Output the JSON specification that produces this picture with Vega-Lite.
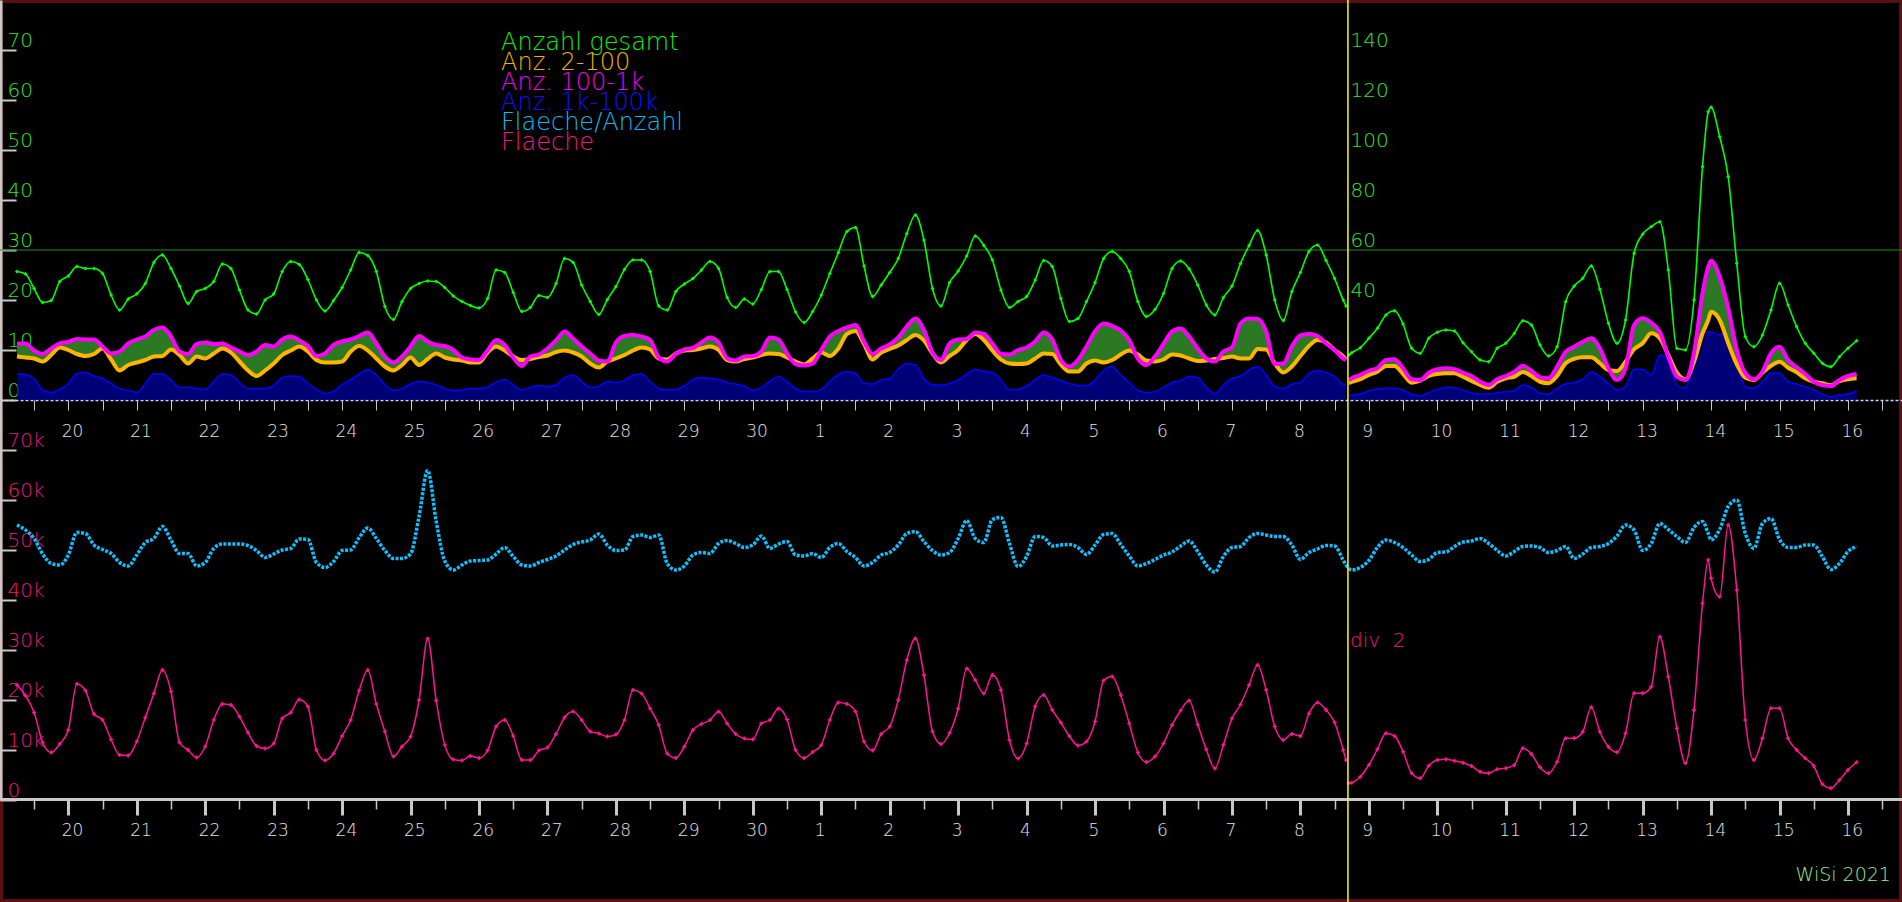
{
"$schema": "https://vega.github.io/schema/vega-lite/v6.json",
"width": 1902, "height": 902, "padding": 0,
"autosize": {"type": "none"},
"background": "#000000",
"config": {
  "view": {"stroke": "#5a1010", "strokeWidth": 6},
  "axis": {"labelFont": "DejaVu Sans", "labelFontWeight": 300},
  "text": {"font": "DejaVu Sans", "fontWeight": 300}
},
"datasets": {
  "dmain": [
{"t":"2021-09-19T06:00","g":25.7,"o":8.7,"m":11.3,"b":5.3,"c":55000,"p":23000},
{"t":"2021-09-19T09:00","g":25.2,"o":8.5,"m":11.3,"b":5.1,"c":54000,"p":20900},
{"t":"2021-09-19T12:00","g":22.3,"o":8.3,"m":9.9,"b":4.3,"c":52300,"p":17500},
{"t":"2021-09-19T15:00","g":19.5,"o":7.7,"m":9.2,"b":2.0,"c":49200,"p":11500},
{"t":"2021-09-19T18:00","g":19.9,"o":9.0,"m":10.3,"b":1.5,"c":47300,"p":9500},
{"t":"2021-09-19T21:00","g":23.7,"o":10.5,"m":11.3,"b":2.1,"c":47000,"p":11200},
{"t":"2021-09-20T00:00","g":24.8,"o":10.0,"m":11.6,"b":3.3,"c":49000,"p":14000},
{"t":"2021-09-20T03:00","g":26.7,"o":9.2,"m":12.2,"b":5.3,"c":53500,"p":23200},
{"t":"2021-09-20T06:00","g":26.3,"o":8.8,"m":12.1,"b":5.5,"c":53300,"p":21900},
{"t":"2021-09-20T09:00","g":26.3,"o":9.2,"m":12.1,"b":4.8,"c":51000,"p":17200},
{"t":"2021-09-20T12:00","g":25.3,"o":10.3,"m":10.7,"b":4.3,"c":50100,"p":16000},
{"t":"2021-09-20T15:00","g":21.0,"o":8.1,"m":9.3,"b":3.3,"c":49300,"p":12100},
{"t":"2021-09-20T18:00","g":18.0,"o":5.9,"m":9.7,"b":2.3,"c":47500,"p":9000},
{"t":"2021-09-20T21:00","g":20.2,"o":7.0,"m":11.3,"b":1.9,"c":46800,"p":8900},
{"t":"2021-09-21T00:00","g":21.2,"o":7.5,"m":12.1,"b":1.5,"c":49000,"p":11700},
{"t":"2021-09-21T03:00","g":23.3,"o":8.0,"m":12.7,"b":3.3,"c":51500,"p":16500},
{"t":"2021-09-21T06:00","g":27.5,"o":8.7,"m":14.0,"b":5.2,"c":52300,"p":21300},
{"t":"2021-09-21T09:00","g":29.0,"o":8.8,"m":14.5,"b":5.2,"c":54700,"p":26000},
{"t":"2021-09-21T12:00","g":26.3,"o":10.1,"m":12.7,"b":4.0,"c":52000,"p":21700},
{"t":"2021-09-21T15:00","g":22.8,"o":9.0,"m":9.7,"b":2.5,"c":49300,"p":11500},
{"t":"2021-09-21T18:00","g":19.3,"o":7.3,"m":9.2,"b":2.5,"c":49300,"p":10000},
{"t":"2021-09-21T21:00","g":21.7,"o":8.7,"m":11.2,"b":2.3,"c":46800,"p":8500},
{"t":"2021-09-22T00:00","g":22.3,"o":8.3,"m":11.5,"b":2.1,"c":47500,"p":10700},
{"t":"2021-09-22T03:00","g":23.7,"o":9.3,"m":11.2,"b":3.7,"c":50300,"p":16000},
{"t":"2021-09-22T06:00","g":27.2,"o":10.3,"m":11.3,"b":5.2,"c":51200,"p":19200},
{"t":"2021-09-22T09:00","g":26.3,"o":9.5,"m":10.5,"b":5.0,"c":51200,"p":19000},
{"t":"2021-09-22T12:00","g":22.0,"o":7.7,"m":9.7,"b":3.5,"c":51200,"p":16700},
{"t":"2021-09-22T15:00","g":18.0,"o":5.9,"m":9.0,"b":2.3,"c":50900,"p":13500},
{"t":"2021-09-22T18:00","g":17.2,"o":4.8,"m":9.7,"b":2.3,"c":49900,"p":10800},
{"t":"2021-09-22T21:00","g":20.0,"o":5.9,"m":11.0,"b":2.3,"c":48500,"p":10300},
{"t":"2021-09-23T00:00","g":21.2,"o":7.3,"m":10.7,"b":2.9,"c":49200,"p":11300},
{"t":"2021-09-23T03:00","g":25.7,"o":9.0,"m":12.1,"b":4.5,"c":50000,"p":16300},
{"t":"2021-09-23T06:00","g":27.7,"o":9.9,"m":12.7,"b":4.8,"c":50300,"p":17500},
{"t":"2021-09-23T09:00","g":27.1,"o":10.7,"m":11.9,"b":4.7,"c":52200,"p":20100},
{"t":"2021-09-23T12:00","g":24.1,"o":9.7,"m":10.8,"b":3.3,"c":52100,"p":18700},
{"t":"2021-09-23T15:00","g":20.0,"o":8.0,"m":8.8,"b":2.1,"c":47500,"p":10000},
{"t":"2021-09-23T18:00","g":17.8,"o":7.5,"m":9.3,"b":1.3,"c":46500,"p":7900},
{"t":"2021-09-23T21:00","g":19.9,"o":7.5,"m":11.0,"b":1.7,"c":47700,"p":9300},
{"t":"2021-09-24T00:00","g":22.5,"o":7.7,"m":11.7,"b":3.1,"c":49900,"p":12800},
{"t":"2021-09-24T03:00","g":26.0,"o":9.7,"m":12.1,"b":4.1,"c":50000,"p":16000},
{"t":"2021-09-24T06:00","g":29.5,"o":10.8,"m":12.8,"b":5.2,"c":52500,"p":21900},
{"t":"2021-09-24T09:00","g":28.9,"o":9.9,"m":13.5,"b":6.1,"c":54400,"p":26000},
{"t":"2021-09-24T12:00","g":25.7,"o":8.3,"m":11.3,"b":5.0,"c":52300,"p":19200},
{"t":"2021-09-24T15:00","g":18.7,"o":6.7,"m":8.7,"b":3.1,"c":49900,"p":13700},
{"t":"2021-09-24T18:00","g":16.1,"o":5.9,"m":7.5,"b":1.9,"c":48300,"p":8700},
{"t":"2021-09-24T21:00","g":19.7,"o":7.0,"m":8.7,"b":2.3,"c":48300,"p":10700},
{"t":"2021-09-25T00:00","g":22.3,"o":8.5,"m":10.7,"b":3.2,"c":49200,"p":12700},
{"t":"2021-09-25T03:00","g":23.3,"o":7.0,"m":12.8,"b":3.7,"c":56800,"p":20000},
{"t":"2021-09-25T06:00","g":23.8,"o":8.2,"m":11.7,"b":3.5,"c":65900,"p":32300},
{"t":"2021-09-25T09:00","g":23.7,"o":9.3,"m":11.0,"b":3.0,"c":55700,"p":19900},
{"t":"2021-09-25T12:00","g":22.5,"o":8.5,"m":10.8,"b":2.3,"c":47800,"p":11000},
{"t":"2021-09-25T15:00","g":20.8,"o":8.1,"m":10.0,"b":1.9,"c":46000,"p":8100},
{"t":"2021-09-25T18:00","g":19.7,"o":7.9,"m":8.5,"b":2.0,"c":47000,"p":7900},
{"t":"2021-09-25T21:00","g":18.9,"o":7.5,"m":8.1,"b":2.3,"c":47800,"p":8800},
{"t":"2021-09-26T00:00","g":18.4,"o":7.5,"m":8.0,"b":2.3,"c":47900,"p":8400},
{"t":"2021-09-26T03:00","g":20.3,"o":9.5,"m":9.9,"b":2.6,"c":48000,"p":9900},
{"t":"2021-09-26T06:00","g":26.0,"o":10.7,"m":12.0,"b":3.6,"c":49200,"p":14700},
{"t":"2021-09-26T09:00","g":25.5,"o":9.9,"m":11.0,"b":4.1,"c":50500,"p":16000},
{"t":"2021-09-26T12:00","g":21.5,"o":8.7,"m":8.5,"b":3.0,"c":48700,"p":12800},
{"t":"2021-09-26T15:00","g":17.7,"o":8.0,"m":6.8,"b":2.0,"c":47000,"p":8000},
{"t":"2021-09-26T18:00","g":18.5,"o":8.2,"m":8.7,"b":2.5,"c":46800,"p":8000},
{"t":"2021-09-26T21:00","g":20.9,"o":8.6,"m":9.1,"b":2.9,"c":47500,"p":9900},
{"t":"2021-09-27T00:00","g":20.5,"o":8.9,"m":10.3,"b":2.7,"c":48100,"p":10500},
{"t":"2021-09-27T03:00","g":23.3,"o":9.6,"m":11.9,"b":3.0,"c":48800,"p":13200},
{"t":"2021-09-27T06:00","g":28.3,"o":9.9,"m":13.7,"b":4.5,"c":50000,"p":16500},
{"t":"2021-09-27T09:00","g":27.5,"o":9.5,"m":12.3,"b":5.0,"c":51100,"p":17700},
{"t":"2021-09-27T12:00","g":23.0,"o":8.7,"m":10.7,"b":3.7,"c":51600,"p":16000},
{"t":"2021-09-27T15:00","g":19.7,"o":7.3,"m":9.3,"b":2.5,"c":52000,"p":13700},
{"t":"2021-09-27T18:00","g":17.1,"o":6.5,"m":7.9,"b":2.8,"c":53200,"p":13300},
{"t":"2021-09-27T21:00","g":20.1,"o":7.7,"m":7.7,"b":3.7,"c":51000,"p":12700},
{"t":"2021-09-28T00:00","g":22.7,"o":8.3,"m":11.5,"b":3.5,"c":49900,"p":13100},
{"t":"2021-09-28T03:00","g":26.1,"o":9.0,"m":12.8,"b":3.9,"c":50000,"p":16000},
{"t":"2021-09-28T06:00","g":28.0,"o":9.9,"m":13.0,"b":5.0,"c":52700,"p":22000},
{"t":"2021-09-28T09:00","g":28.0,"o":10.5,"m":12.7,"b":5.2,"c":53000,"p":21300},
{"t":"2021-09-28T12:00","g":25.7,"o":10.1,"m":12.0,"b":3.7,"c":52500,"p":18300},
{"t":"2021-09-28T15:00","g":18.8,"o":8.3,"m":8.5,"b":2.3,"c":53000,"p":15000},
{"t":"2021-09-28T18:00","g":18.0,"o":8.1,"m":7.7,"b":2.0,"c":47300,"p":9300},
{"t":"2021-09-28T21:00","g":21.7,"o":9.3,"m":9.2,"b":2.1,"c":46000,"p":8400},
{"t":"2021-09-29T00:00","g":23.2,"o":9.9,"m":10.1,"b":2.8,"c":46800,"p":10700},
{"t":"2021-09-29T03:00","g":24.3,"o":10.0,"m":10.4,"b":4.1,"c":49000,"p":14000},
{"t":"2021-09-29T06:00","g":26.0,"o":10.3,"m":11.5,"b":4.5,"c":49500,"p":15200},
{"t":"2021-09-29T09:00","g":27.7,"o":10.7,"m":12.5,"b":4.3,"c":49300,"p":16000},
{"t":"2021-09-29T12:00","g":26.3,"o":10.0,"m":11.5,"b":4.1,"c":51300,"p":17700},
{"t":"2021-09-29T15:00","g":20.5,"o":8.0,"m":8.3,"b":3.5,"c":51900,"p":15300},
{"t":"2021-09-29T18:00","g":18.5,"o":7.7,"m":7.9,"b":3.2,"c":51300,"p":13200},
{"t":"2021-09-29T21:00","g":20.2,"o":8.2,"m":8.7,"b":2.8,"c":50500,"p":12300},
{"t":"2021-09-30T00:00","g":19.2,"o":8.5,"m":8.8,"b":1.9,"c":51000,"p":12100},
{"t":"2021-09-30T03:00","g":22.1,"o":9.0,"m":9.7,"b":2.5,"c":52800,"p":15300},
{"t":"2021-09-30T06:00","g":25.7,"o":9.3,"m":12.5,"b":3.7,"c":50300,"p":16000},
{"t":"2021-09-30T09:00","g":25.7,"o":9.2,"m":12.1,"b":4.7,"c":51200,"p":18300},
{"t":"2021-09-30T12:00","g":22.1,"o":8.5,"m":9.3,"b":3.7,"c":51700,"p":16100},
{"t":"2021-09-30T15:00","g":17.6,"o":7.7,"m":7.2,"b":2.3,"c":49000,"p":10000},
{"t":"2021-09-30T18:00","g":15.5,"o":7.1,"m":6.9,"b":1.7,"c":48800,"p":8400},
{"t":"2021-09-30T21:00","g":17.7,"o":8.3,"m":7.3,"b":1.7,"c":49300,"p":9600},
{"t":"2021-10-01T00:00","g":21.0,"o":9.5,"m":10.0,"b":2.1,"c":48500,"p":11000},
{"t":"2021-10-01T03:00","g":25.3,"o":8.8,"m":12.7,"b":3.7,"c":50500,"p":16000},
{"t":"2021-10-01T06:00","g":29.5,"o":10.3,"m":13.8,"b":5.1,"c":51300,"p":19500},
{"t":"2021-10-01T09:00","g":33.7,"o":13.2,"m":14.5,"b":5.7,"c":49700,"p":19200},
{"t":"2021-10-01T12:00","g":34.5,"o":13.8,"m":15.0,"b":5.3,"c":48500,"p":17700},
{"t":"2021-10-01T15:00","g":26.8,"o":11.2,"m":11.7,"b":3.4,"c":46800,"p":11700},
{"t":"2021-10-01T18:00","g":20.7,"o":8.1,"m":9.2,"b":3.2,"c":47500,"p":9900},
{"t":"2021-10-01T21:00","g":23.0,"o":9.5,"m":10.3,"b":4.0,"c":49000,"p":13200},
{"t":"2021-10-02T00:00","g":25.5,"o":10.2,"m":11.1,"b":4.3,"c":49500,"p":14700},
{"t":"2021-10-02T03:00","g":28.3,"o":10.9,"m":12.5,"b":6.2,"c":51000,"p":20000},
{"t":"2021-10-02T06:00","g":33.3,"o":12.0,"m":14.7,"b":7.3,"c":53300,"p":28000},
{"t":"2021-10-02T09:00","g":37.0,"o":13.0,"m":16.3,"b":7.0,"c":53700,"p":32300},
{"t":"2021-10-02T12:00","g":32.0,"o":11.9,"m":14.0,"b":4.3,"c":51700,"p":25000},
{"t":"2021-10-02T15:00","g":22.3,"o":9.3,"m":9.5,"b":3.0,"c":49900,"p":13700},
{"t":"2021-10-02T18:00","g":18.8,"o":7.5,"m":8.0,"b":3.0,"c":49000,"p":11200},
{"t":"2021-10-02T21:00","g":23.5,"o":8.8,"m":11.3,"b":3.3,"c":49500,"p":13400},
{"t":"2021-10-03T00:00","g":25.8,"o":10.0,"m":12.1,"b":4.0,"c":52300,"p":18300},
{"t":"2021-10-03T03:00","g":28.8,"o":12.0,"m":12.2,"b":5.2,"c":55900,"p":26300},
{"t":"2021-10-03T06:00","g":32.8,"o":13.2,"m":13.5,"b":6.1,"c":52300,"p":24000},
{"t":"2021-10-03T09:00","g":30.9,"o":12.0,"m":13.2,"b":5.7,"c":51500,"p":21300},
{"t":"2021-10-03T12:00","g":28.0,"o":9.9,"m":11.3,"b":5.5,"c":56100,"p":25000},
{"t":"2021-10-03T15:00","g":22.0,"o":8.1,"m":9.2,"b":4.0,"c":56500,"p":22000},
{"t":"2021-10-03T18:00","g":18.5,"o":7.3,"m":9.1,"b":2.0,"c":51300,"p":12000},
{"t":"2021-10-03T21:00","g":19.7,"o":7.2,"m":10.0,"b":2.1,"c":46700,"p":8300},
{"t":"2021-10-04T00:00","g":20.7,"o":7.3,"m":10.5,"b":2.8,"c":48700,"p":11300},
{"t":"2021-10-04T03:00","g":24.0,"o":8.3,"m":11.7,"b":4.0,"c":52700,"p":18700},
{"t":"2021-10-04T06:00","g":27.9,"o":9.3,"m":13.5,"b":5.0,"c":52500,"p":21000},
{"t":"2021-10-04T09:00","g":26.7,"o":9.2,"m":12.1,"b":4.5,"c":50800,"p":18000},
{"t":"2021-10-04T12:00","g":20.3,"o":7.1,"m":8.0,"b":3.9,"c":51000,"p":15500},
{"t":"2021-10-04T15:00","g":15.7,"o":5.7,"m":6.7,"b":3.3,"c":51100,"p":12800},
{"t":"2021-10-04T18:00","g":16.3,"o":5.7,"m":8.0,"b":2.9,"c":50500,"p":10900},
{"t":"2021-10-04T21:00","g":19.7,"o":7.3,"m":10.7,"b":2.9,"c":49100,"p":11700},
{"t":"2021-10-05T00:00","g":23.5,"o":7.9,"m":13.7,"b":4.0,"c":51000,"p":15700},
{"t":"2021-10-05T03:00","g":28.3,"o":7.5,"m":15.3,"b":5.9,"c":53100,"p":23900},
{"t":"2021-10-05T06:00","g":29.7,"o":8.0,"m":14.8,"b":6.7,"c":53300,"p":24700},
{"t":"2021-10-05T09:00","g":28.3,"o":9.1,"m":13.9,"b":5.0,"c":51100,"p":21000},
{"t":"2021-10-05T12:00","g":25.7,"o":9.9,"m":12.0,"b":3.5,"c":48800,"p":15300},
{"t":"2021-10-05T15:00","g":19.7,"o":9.1,"m":8.3,"b":1.9,"c":46800,"p":9500},
{"t":"2021-10-05T18:00","g":16.7,"o":7.9,"m":7.0,"b":1.5,"c":47300,"p":7600},
{"t":"2021-10-05T21:00","g":18.1,"o":7.7,"m":8.7,"b":1.7,"c":48100,"p":8700},
{"t":"2021-10-06T00:00","g":21.3,"o":8.1,"m":11.2,"b":2.5,"c":49000,"p":11300},
{"t":"2021-10-06T03:00","g":26.3,"o":9.1,"m":13.7,"b":3.5,"c":49600,"p":15000},
{"t":"2021-10-06T06:00","g":27.8,"o":8.9,"m":14.3,"b":3.9,"c":50800,"p":17900},
{"t":"2021-10-06T09:00","g":26.2,"o":8.3,"m":12.7,"b":4.7,"c":51800,"p":19900},
{"t":"2021-10-06T12:00","g":23.0,"o":7.8,"m":10.3,"b":4.5,"c":49700,"p":15100},
{"t":"2021-10-06T15:00","g":19.0,"o":7.9,"m":8.3,"b":2.5,"c":47000,"p":10100},
{"t":"2021-10-06T18:00","g":17.0,"o":8.2,"m":7.7,"b":1.3,"c":45600,"p":6300},
{"t":"2021-10-06T21:00","g":20.5,"o":8.4,"m":9.7,"b":3.0,"c":48700,"p":11000},
{"t":"2021-10-07T00:00","g":22.8,"o":8.7,"m":10.5,"b":4.3,"c":50500,"p":16300},
{"t":"2021-10-07T03:00","g":27.3,"o":8.3,"m":15.3,"b":4.8,"c":50700,"p":19100},
{"t":"2021-10-07T06:00","g":30.9,"o":8.3,"m":16.3,"b":6.0,"c":52500,"p":23000},
{"t":"2021-10-07T09:00","g":33.9,"o":10.2,"m":16.2,"b":6.7,"c":53300,"p":27000},
{"t":"2021-10-07T12:00","g":29.0,"o":10.1,"m":13.7,"b":5.0,"c":53000,"p":22000},
{"t":"2021-10-07T15:00","g":20.0,"o":7.3,"m":7.2,"b":2.7,"c":52700,"p":14700},
{"t":"2021-10-07T18:00","g":15.9,"o":5.5,"m":7.3,"b":2.3,"c":52700,"p":12000},
{"t":"2021-10-07T21:00","g":21.7,"o":6.7,"m":10.7,"b":3.2,"c":51000,"p":13200},
{"t":"2021-10-08T00:00","g":25.5,"o":8.8,"m":12.9,"b":3.5,"c":48100,"p":12800},
{"t":"2021-10-08T03:00","g":29.7,"o":10.8,"m":13.2,"b":5.3,"c":49500,"p":17300},
{"t":"2021-10-08T06:00","g":31.0,"o":12.0,"m":12.8,"b":5.9,"c":50200,"p":19500},
{"t":"2021-10-08T09:00","g":27.9,"o":11.5,"m":11.3,"b":5.5,"c":50900,"p":18000},
{"t":"2021-10-08T12:00","g":24.3,"o":10.0,"m":10.0,"b":4.7,"c":50800,"p":15500},
{"t":"2021-10-08T15:00","g":20.0,"o":8.7,"m":8.3,"b":3.1,"c":48000,"p":10000},
{"t":"2021-10-08T16:00","g":18.8,"o":8.1,"m":8.0,"b":2.9,"c":47000,"p":8000},
{"t":"2021-10-08T17:00","g":18.0,"o":6.7,"m":8.0,"b":2.0,"c":46300,"p":6700},
{"t":"2021-10-08T18:00","g":18.9,"o":7.2,"m":8.7,"b":2.0,"c":46000,"p":6900},
{"t":"2021-10-08T21:00","g":20.9,"o":8.3,"m":10.0,"b":2.4,"c":46500,"p":9300},
{"t":"2021-10-09T00:00","g":24.7,"o":10.0,"m":11.7,"b":3.7,"c":47900,"p":14000},
{"t":"2021-10-09T03:00","g":28.7,"o":11.3,"m":12.7,"b":4.4,"c":50500,"p":20300},
{"t":"2021-10-09T06:00","g":34.0,"o":13.6,"m":16.0,"b":4.7,"c":52000,"p":26700},
{"t":"2021-10-09T09:00","g":35.7,"o":13.6,"m":16.3,"b":4.7,"c":51500,"p":25600},
{"t":"2021-10-09T12:00","g":30.4,"o":10.4,"m":12.7,"b":4.0,"c":50500,"p":19300},
{"t":"2021-10-09T15:00","g":20.7,"o":6.9,"m":8.3,"b":2.3,"c":49000,"p":10700},
{"t":"2021-10-09T18:00","g":18.7,"o":7.7,"m":8.0,"b":1.6,"c":47700,"p":8700},
{"t":"2021-10-09T21:00","g":24.7,"o":9.6,"m":10.9,"b":2.9,"c":48100,"p":13700},
{"t":"2021-10-10T00:00","g":27.1,"o":10.4,"m":12.3,"b":4.3,"c":49500,"p":16000},
{"t":"2021-10-10T03:00","g":28.0,"o":10.7,"m":12.7,"b":5.1,"c":49600,"p":16300},
{"t":"2021-10-10T06:00","g":27.6,"o":10.7,"m":12.3,"b":4.9,"c":50700,"p":15700},
{"t":"2021-10-10T09:00","g":22.9,"o":9.3,"m":10.9,"b":4.0,"c":51600,"p":14900},
{"t":"2021-10-10T12:00","g":19.3,"o":7.6,"m":9.6,"b":2.9,"c":51800,"p":13600},
{"t":"2021-10-10T15:00","g":16.0,"o":6.0,"m":7.3,"b":2.4,"c":52300,"p":11300},
{"t":"2021-10-10T18:00","g":15.3,"o":4.9,"m":6.0,"b":2.5,"c":51300,"p":10700},
{"t":"2021-10-10T21:00","g":20.7,"o":7.3,"m":8.3,"b":2.9,"c":49900,"p":12300},
{"t":"2021-10-11T00:00","g":22.7,"o":8.7,"m":9.6,"b":3.3,"c":48800,"p":12700},
{"t":"2021-10-11T03:00","g":26.7,"o":9.3,"m":11.3,"b":3.7,"c":49700,"p":14000},
{"t":"2021-10-11T06:00","g":31.7,"o":11.2,"m":13.7,"b":6.0,"c":50700,"p":20700},
{"t":"2021-10-11T09:00","g":30.0,"o":9.6,"m":11.7,"b":5.1,"c":50800,"p":18400},
{"t":"2021-10-11T12:00","g":22.0,"o":7.3,"m":9.1,"b":2.7,"c":50500,"p":13100},
{"t":"2021-10-11T15:00","g":17.6,"o":6.7,"m":8.7,"b":2.3,"c":49500,"p":10700},
{"t":"2021-10-11T18:00","g":21.3,"o":9.6,"m":13.3,"b":4.7,"c":49900,"p":15300},
{"t":"2021-10-11T21:00","g":39.3,"o":14.7,"m":19.3,"b":6.4,"c":50700,"p":24700},
{"t":"2021-10-12T00:00","g":45.6,"o":16.5,"m":21.3,"b":6.9,"c":48300,"p":24700},
{"t":"2021-10-12T03:00","g":48.7,"o":17.1,"m":23.3,"b":8.3,"c":49200,"p":27300},
{"t":"2021-10-12T06:00","g":53.6,"o":17.1,"m":24.7,"b":11.2,"c":50500,"p":37100},
{"t":"2021-10-12T09:00","g":44.3,"o":14.7,"m":20.7,"b":9.3,"c":50700,"p":27300},
{"t":"2021-10-12T12:00","g":30.7,"o":12.0,"m":12.7,"b":6.7,"c":51300,"p":21300},
{"t":"2021-10-12T15:00","g":22.7,"o":11.6,"m":8.0,"b":4.0,"c":52800,"p":19100},
{"t":"2021-10-12T18:00","g":32.0,"o":15.3,"m":12.7,"b":5.6,"c":55000,"p":26700},
{"t":"2021-10-12T21:00","g":58.7,"o":20.3,"m":30.0,"b":12.3,"c":54000,"p":42700},
{"t":"2021-10-13T00:00","g":66.3,"o":22.7,"m":32.7,"b":12.3,"c":49900,"p":42700},
{"t":"2021-10-13T03:00","g":69.3,"o":26.7,"m":30.9,"b":10.0,"c":51300,"p":45300},
{"t":"2021-10-13T06:00","g":71.3,"o":24.7,"m":27.3,"b":18.0,"c":55300,"p":65300},
{"t":"2021-10-13T09:00","g":52.0,"o":18.0,"m":17.3,"b":16.0,"c":54100,"p":49300},
{"t":"2021-10-13T12:00","g":20.7,"o":10.9,"m":9.3,"b":6.0,"c":52700,"p":28700},
{"t":"2021-10-13T15:00","g":20.0,"o":8.3,"m":8.0,"b":4.7,"c":51500,"p":14700},
{"t":"2021-10-13T18:00","g":40.0,"o":15.3,"m":18.7,"b":17.6,"c":54500,"p":36000},
{"t":"2021-10-13T21:00","g":93.3,"o":26.7,"m":42.7,"b":26.4,"c":55700,"p":78700},
{"t":"2021-10-13T23:00","g":115.3,"o":32.0,"m":53.3,"b":27.3,"c":53300,"p":96000},
{"t":"2021-10-14T00:00","g":117.1,"o":35.3,"m":55.7,"b":27.1,"c":52000,"p":88700},
{"t":"2021-10-14T03:00","g":105.3,"o":32.0,"m":49.3,"b":26.0,"c":54100,"p":81300},
{"t":"2021-10-14T06:00","g":89.3,"o":22.7,"m":36.7,"b":28.0,"c":58700,"p":110000},
{"t":"2021-10-14T09:00","g":54.7,"o":14.3,"m":20.0,"b":16.0,"c":60000,"p":84000},
{"t":"2021-10-14T12:00","g":25.3,"o":8.9,"m":10.7,"b":5.3,"c":53300,"p":32000},
{"t":"2021-10-14T15:00","g":21.3,"o":8.0,"m":8.3,"b":4.7,"c":50300,"p":16000},
{"t":"2021-10-14T18:00","g":26.0,"o":10.9,"m":11.3,"b":7.3,"c":55300,"p":24700},
{"t":"2021-10-14T21:00","g":36.0,"o":13.7,"m":18.7,"b":10.9,"c":56300,"p":36700},
{"t":"2021-10-15T00:00","g":46.7,"o":15.3,"m":21.3,"b":10.7,"c":52100,"p":36700},
{"t":"2021-10-15T03:00","g":38.0,"o":12.9,"m":16.0,"b":7.3,"c":50500,"p":24700},
{"t":"2021-10-15T06:00","g":29.3,"o":11.1,"m":13.1,"b":6.3,"c":50500,"p":20000},
{"t":"2021-10-15T09:00","g":22.7,"o":8.7,"m":10.4,"b":5.3,"c":51000,"p":16700},
{"t":"2021-10-15T12:00","g":18.7,"o":7.3,"m":7.3,"b":4.0,"c":51000,"p":13600},
{"t":"2021-10-15T15:00","g":14.7,"o":6.7,"m":6.0,"b":2.4,"c":48700,"p":6400},
{"t":"2021-10-15T18:00","g":13.3,"o":5.9,"m":5.6,"b":1.3,"c":46100,"p":4700},
{"t":"2021-10-15T21:00","g":17.3,"o":7.6,"m":8.0,"b":2.0,"c":47300,"p":8000},
{"t":"2021-10-16T00:00","g":20.7,"o":8.3,"m":9.6,"b":2.4,"c":49700,"p":12000},
{"t":"2021-10-16T03:00","g":23.7,"o":8.7,"m":10.4,"b":3.7,"c":50700,"p":15100}
  ],
  "dlegend": [
    {"name": "Anzahl gesamt"}, {"name": "Anz. 2-100"}, {"name": "Anz. 100-1k"},
    {"name": "Anz. 1k-100k"}, {"name": "Flaeche/Anzahl"}, {"name": "Flaeche"}
  ]
},
"data": {"name": "dmain", "format": {"parse": {"t": "date"}}},
"resolve": {"scale": {"y": "independent"}, "axis": {"x": "independent", "y": "independent"}},
"layer": [
  {"data": {"values": [{"v": 30}]},
   "mark": {"type": "rule", "color": "#1f8f1f", "strokeWidth": 1},
   "encoding": {"y": {"field": "v", "type": "quantitative", "scale": {"domain": [0, 80], "range": [400, 0], "nice": false}, "axis": null}}},

  {"transform": [{"filter": "time(datum.t) < time(datetime(2021,9,8,16,30))"}],
   "mark": {"type": "area", "interpolate": "monotone", "fill": "#0000a8", "line": {"color": "#0000ff", "strokeWidth": 1.5}},
   "encoding": {
     "x": {"field": "t", "type": "temporal", "scale": {"domain": [{"year": 2021, "month": 9, "date": 19, "minutes": 3}, {"year": 2021, "month": 10, "date": 16, "hours": 18, "minutes": 56}], "nice": false}, "axis": null},
     "y": {"field": "b", "type": "quantitative", "scale": {"domain": [0, 80], "range": [400, 0], "nice": false}, "axis": null}}},
  {"transform": [{"filter": "time(datum.t) < time(datetime(2021,9,8,16,30))"}],
   "mark": {"type": "area", "interpolate": "monotone", "fill": "#2b7a23"},
   "encoding": {
     "x": {"field": "t", "type": "temporal", "scale": {"domain": [{"year": 2021, "month": 9, "date": 19, "minutes": 3}, {"year": 2021, "month": 10, "date": 16, "hours": 18, "minutes": 56}], "nice": false}, "axis": null},
     "y": {"field": "m", "type": "quantitative", "scale": {"domain": [0, 80], "range": [400, 0], "nice": false}, "axis": null},
     "y2": {"field": "o"}}},
  {"transform": [{"filter": "time(datum.t) < time(datetime(2021,9,8,16,30))"}],
   "mark": {"type": "line", "interpolate": "monotone", "color": "#ffb400", "strokeWidth": 4},
   "encoding": {
     "x": {"field": "t", "type": "temporal", "scale": {"domain": [{"year": 2021, "month": 9, "date": 19, "minutes": 3}, {"year": 2021, "month": 10, "date": 16, "hours": 18, "minutes": 56}], "nice": false}, "axis": null},
     "y": {"field": "o", "type": "quantitative", "scale": {"domain": [0, 80], "range": [400, 0], "nice": false}, "axis": null}}},
  {"transform": [{"filter": "time(datum.t) < time(datetime(2021,9,8,16,30))"}],
   "mark": {"type": "line", "interpolate": "monotone", "color": "#ff00ff", "strokeWidth": 4},
   "encoding": {
     "x": {"field": "t", "type": "temporal", "scale": {"domain": [{"year": 2021, "month": 9, "date": 19, "minutes": 3}, {"year": 2021, "month": 10, "date": 16, "hours": 18, "minutes": 56}], "nice": false}, "axis": null},
     "y": {"field": "m", "type": "quantitative", "scale": {"domain": [0, 80], "range": [400, 0], "nice": false}, "axis": null}}},
  {"transform": [{"filter": "time(datum.t) < time(datetime(2021,9,8,16,30))"}],
   "mark": {"type": "line", "interpolate": "monotone", "color": "#00ff00", "strokeWidth": 1.6, "point": {"shape": "diamond", "size": 16, "filled": true, "color": "#00ff00"}},
   "encoding": {
     "x": {"field": "t", "type": "temporal", "scale": {"domain": [{"year": 2021, "month": 9, "date": 19, "minutes": 3}, {"year": 2021, "month": 10, "date": 16, "hours": 18, "minutes": 56}], "nice": false},
       "axis": {"orient": "bottom", "offset": -502,
         "values": [{"year":2021,"month":9,"date":19,"hours":12},{"year":2021,"month":9,"date":20},{"year":2021,"month":9,"date":20,"hours":12},{"year":2021,"month":9,"date":21},{"year":2021,"month":9,"date":21,"hours":12},{"year":2021,"month":9,"date":22},{"year":2021,"month":9,"date":22,"hours":12},{"year":2021,"month":9,"date":23},{"year":2021,"month":9,"date":23,"hours":12},{"year":2021,"month":9,"date":24},{"year":2021,"month":9,"date":24,"hours":12},{"year":2021,"month":9,"date":25},{"year":2021,"month":9,"date":25,"hours":12},{"year":2021,"month":9,"date":26},{"year":2021,"month":9,"date":26,"hours":12},{"year":2021,"month":9,"date":27},{"year":2021,"month":9,"date":27,"hours":12},{"year":2021,"month":9,"date":28},{"year":2021,"month":9,"date":28,"hours":12},{"year":2021,"month":9,"date":29},{"year":2021,"month":9,"date":29,"hours":12},{"year":2021,"month":9,"date":30},{"year":2021,"month":9,"date":30,"hours":12},{"year":2021,"month":10,"date":1},{"year":2021,"month":10,"date":1,"hours":12},{"year":2021,"month":10,"date":2},{"year":2021,"month":10,"date":2,"hours":12},{"year":2021,"month":10,"date":3},{"year":2021,"month":10,"date":3,"hours":12},{"year":2021,"month":10,"date":4},{"year":2021,"month":10,"date":4,"hours":12},{"year":2021,"month":10,"date":5},{"year":2021,"month":10,"date":5,"hours":12},{"year":2021,"month":10,"date":6},{"year":2021,"month":10,"date":6,"hours":12},{"year":2021,"month":10,"date":7},{"year":2021,"month":10,"date":7,"hours":12},{"year":2021,"month":10,"date":8},{"year":2021,"month":10,"date":8,"hours":12},{"year":2021,"month":10,"date":9},{"year":2021,"month":10,"date":9,"hours":12},{"year":2021,"month":10,"date":10},{"year":2021,"month":10,"date":10,"hours":12},{"year":2021,"month":10,"date":11},{"year":2021,"month":10,"date":11,"hours":12},{"year":2021,"month":10,"date":12},{"year":2021,"month":10,"date":12,"hours":12},{"year":2021,"month":10,"date":13},{"year":2021,"month":10,"date":13,"hours":12},{"year":2021,"month":10,"date":14},{"year":2021,"month":10,"date":14,"hours":12},{"year":2021,"month":10,"date":15},{"year":2021,"month":10,"date":15,"hours":12},{"year":2021,"month":10,"date":16},{"year":2021,"month":10,"date":16,"hours":12}],
         "domain": true, "domainColor": "#d0d0ff", "domainWidth": 1.5, "domainDash": [3, 2], "ticks": true, "tickColor": "#c8c8c8", "tickSize": 10, "tickWidth": 1, "grid": false,
         "labelExpr": "hours(datum.value) == 0 ? timeFormat(datum.value, '%-d') : ''", "labelColor": "#e4e4e4", "labelFontSize": 17, "labelAlign": "left", "labelBaseline": "alphabetic", "labelOffset": -7, "labelPadding": 26, "labelOverlap": false, "labelFlush": false, "labelBound": false, "title": null}},
     "y": {"field": "g", "type": "quantitative", "scale": {"domain": [0, 80], "range": [400, 0], "nice": false},
       "axis": {"orient": "left", "values": [0, 10, 20, 30, 40, 50, 60, 70], "domain": true, "domainColor": "#c8c8c8", "domainWidth": 4, "ticks": false, "grid": true, "gridColor": "#c8c8c8", "gridWidth": 2, "gridDash": [16, 4000], "labelExpr": "datum.value == 0 ? '\u00a0\u00a00' : datum.label", "labelColor": "#30e830", "labelFontSize": 20, "labelAlign": "left", "labelBaseline": "alphabetic", "labelPadding": -7, "labelOffset": -4, "labelOverlap": false, "labelFlush": false, "labelBound": false, "title": null}}}},

  {"transform": [{"filter": "time(datum.t) > time(datetime(2021,9,8,16,30))"}],
   "mark": {"type": "area", "interpolate": "monotone", "fill": "#0000a8", "line": {"color": "#0000ff", "strokeWidth": 1.5}},
   "encoding": {
     "x": {"field": "t", "type": "temporal", "scale": {"domain": [{"year": 2021, "month": 9, "date": 19, "minutes": 3}, {"year": 2021, "month": 10, "date": 16, "hours": 18, "minutes": 56}], "nice": false}, "axis": null},
     "y": {"field": "b", "type": "quantitative", "scale": {"domain": [0, 160], "range": [400, 0], "nice": false}, "axis": null}}},
  {"transform": [{"filter": "time(datum.t) > time(datetime(2021,9,8,16,30))"}],
   "mark": {"type": "area", "interpolate": "monotone", "fill": "#2b7a23"},
   "encoding": {
     "x": {"field": "t", "type": "temporal", "scale": {"domain": [{"year": 2021, "month": 9, "date": 19, "minutes": 3}, {"year": 2021, "month": 10, "date": 16, "hours": 18, "minutes": 56}], "nice": false}, "axis": null},
     "y": {"field": "m", "type": "quantitative", "scale": {"domain": [0, 160], "range": [400, 0], "nice": false}, "axis": null},
     "y2": {"field": "o"}}},
  {"transform": [{"filter": "time(datum.t) > time(datetime(2021,9,8,16,30))"}],
   "mark": {"type": "line", "interpolate": "monotone", "color": "#ffb400", "strokeWidth": 4},
   "encoding": {
     "x": {"field": "t", "type": "temporal", "scale": {"domain": [{"year": 2021, "month": 9, "date": 19, "minutes": 3}, {"year": 2021, "month": 10, "date": 16, "hours": 18, "minutes": 56}], "nice": false}, "axis": null},
     "y": {"field": "o", "type": "quantitative", "scale": {"domain": [0, 160], "range": [400, 0], "nice": false}, "axis": null}}},
  {"transform": [{"filter": "time(datum.t) > time(datetime(2021,9,8,16,30))"}],
   "mark": {"type": "line", "interpolate": "monotone", "color": "#ff00ff", "strokeWidth": 4},
   "encoding": {
     "x": {"field": "t", "type": "temporal", "scale": {"domain": [{"year": 2021, "month": 9, "date": 19, "minutes": 3}, {"year": 2021, "month": 10, "date": 16, "hours": 18, "minutes": 56}], "nice": false}, "axis": null},
     "y": {"field": "m", "type": "quantitative", "scale": {"domain": [0, 160], "range": [400, 0], "nice": false}, "axis": null}}},
  {"transform": [{"filter": "time(datum.t) > time(datetime(2021,9,8,16,30))"}],
   "mark": {"type": "line", "interpolate": "monotone", "color": "#00ff00", "strokeWidth": 1.6, "point": {"shape": "diamond", "size": 16, "filled": true, "color": "#00ff00"}},
   "encoding": {
     "x": {"field": "t", "type": "temporal", "scale": {"domain": [{"year": 2021, "month": 9, "date": 19, "minutes": 3}, {"year": 2021, "month": 10, "date": 16, "hours": 18, "minutes": 56}], "nice": false}, "axis": null},
     "y": {"field": "g", "type": "quantitative", "scale": {"domain": [0, 160], "range": [400, 0], "nice": false},
       "axis": {"orient": "right", "offset": -554, "values": [40, 60, 80, 100, 120, 140], "domain": false, "ticks": false, "grid": false, "labelColor": "#30e830", "labelFontSize": 20, "labelAlign": "left", "labelBaseline": "alphabetic", "labelPadding": 2, "labelOffset": -4, "labelOverlap": false, "labelFlush": false, "labelBound": false, "title": null}}}},

  {"mark": {"type": "line", "interpolate": "monotone", "color": "#10bfff", "strokeWidth": 3.5, "strokeDash": [3, 1.5]},
   "encoding": {
     "x": {"field": "t", "type": "temporal", "scale": {"domain": [{"year": 2021, "month": 9, "date": 19, "minutes": 3}, {"year": 2021, "month": 10, "date": 16, "hours": 18, "minutes": 56}], "nice": false},
       "axis": {"orient": "bottom", "offset": -103,
         "values": [{"year":2021,"month":9,"date":19,"hours":12},{"year":2021,"month":9,"date":20,"hours":12},{"year":2021,"month":9,"date":21,"hours":12},{"year":2021,"month":9,"date":22,"hours":12},{"year":2021,"month":9,"date":23,"hours":12},{"year":2021,"month":9,"date":24,"hours":12},{"year":2021,"month":9,"date":25,"hours":12},{"year":2021,"month":9,"date":26,"hours":12},{"year":2021,"month":9,"date":27,"hours":12},{"year":2021,"month":9,"date":28,"hours":12},{"year":2021,"month":9,"date":29,"hours":12},{"year":2021,"month":9,"date":30,"hours":12},{"year":2021,"month":10,"date":1,"hours":12},{"year":2021,"month":10,"date":2,"hours":12},{"year":2021,"month":10,"date":3,"hours":12},{"year":2021,"month":10,"date":4,"hours":12},{"year":2021,"month":10,"date":5,"hours":12},{"year":2021,"month":10,"date":6,"hours":12},{"year":2021,"month":10,"date":7,"hours":12},{"year":2021,"month":10,"date":8,"hours":12},{"year":2021,"month":10,"date":9,"hours":12},{"year":2021,"month":10,"date":10,"hours":12},{"year":2021,"month":10,"date":11,"hours":12},{"year":2021,"month":10,"date":12,"hours":12},{"year":2021,"month":10,"date":13,"hours":12},{"year":2021,"month":10,"date":14,"hours":12},{"year":2021,"month":10,"date":15,"hours":12},{"year":2021,"month":10,"date":16,"hours":12}],
         "domain": true, "domainColor": "#c8c8c8", "domainWidth": 3, "ticks": true, "tickColor": "#c8c8c8", "tickSize": 10, "tickWidth": 1.5, "labels": false, "grid": false, "title": null}},
     "y": {"field": "c", "type": "quantitative", "scale": {"domain": [0, 80000], "range": [800, 400], "nice": false}, "axis": null}}},
  {"transform": [{"filter": "time(datum.t) < time(datetime(2021,9,8,16,30))"}],
   "mark": {"type": "line", "interpolate": "monotone", "color": "#ff1493", "strokeWidth": 1.5, "point": {"shape": "cross", "size": 16, "filled": true, "color": "#ff1493"}},
   "encoding": {
     "x": {"field": "t", "type": "temporal", "scale": {"domain": [{"year": 2021, "month": 9, "date": 19, "minutes": 3}, {"year": 2021, "month": 10, "date": 16, "hours": 18, "minutes": 56}], "nice": false},
       "axis": {"orient": "bottom", "offset": -103,
         "values": [{"year":2021,"month":9,"date":20},{"year":2021,"month":9,"date":21},{"year":2021,"month":9,"date":22},{"year":2021,"month":9,"date":23},{"year":2021,"month":9,"date":24},{"year":2021,"month":9,"date":25},{"year":2021,"month":9,"date":26},{"year":2021,"month":9,"date":27},{"year":2021,"month":9,"date":28},{"year":2021,"month":9,"date":29},{"year":2021,"month":9,"date":30},{"year":2021,"month":10,"date":1},{"year":2021,"month":10,"date":2},{"year":2021,"month":10,"date":3},{"year":2021,"month":10,"date":4},{"year":2021,"month":10,"date":5},{"year":2021,"month":10,"date":6},{"year":2021,"month":10,"date":7},{"year":2021,"month":10,"date":8},{"year":2021,"month":10,"date":9},{"year":2021,"month":10,"date":10},{"year":2021,"month":10,"date":11},{"year":2021,"month":10,"date":12},{"year":2021,"month":10,"date":13},{"year":2021,"month":10,"date":14},{"year":2021,"month":10,"date":15},{"year":2021,"month":10,"date":16}],
         "domain": false, "ticks": true, "tickColor": "#c8c8c8", "tickSize": 16, "tickWidth": 3, "grid": false, "labelExpr": "timeFormat(datum.value, '%-d')", "labelColor": "#e4e4e4", "labelFontSize": 17, "labelAlign": "left", "labelBaseline": "alphabetic", "labelOffset": -7, "labelPadding": 20, "labelOverlap": false, "labelFlush": false, "labelBound": false, "title": null}},
     "y": {"field": "p", "type": "quantitative", "scale": {"domain": [0, 80000], "range": [800, 400], "nice": false},
       "axis": {"orient": "left", "values": [0, 10000, 20000, 30000, 40000, 50000, 60000, 70000], "domain": true, "domainColor": "#c8c8c8", "domainWidth": 4, "ticks": false, "grid": true, "gridColor": "#c8c8c8", "gridWidth": 2, "gridDash": [16, 4000], "labelExpr": "datum.value == 0 ? '\u00a0\u00a00' : (datum.value / 1000) + 'k'", "labelColor": "#f01880", "labelFontSize": 20, "labelAlign": "left", "labelBaseline": "alphabetic", "labelPadding": -7, "labelOffset": -4, "labelOverlap": false, "labelFlush": false, "labelBound": false, "title": null}}}},
  {"transform": [{"filter": "time(datum.t) > time(datetime(2021,9,8,16,30))"}],
   "mark": {"type": "line", "interpolate": "monotone", "color": "#ff1493", "strokeWidth": 1.5, "point": {"shape": "cross", "size": 16, "filled": true, "color": "#ff1493"}},
   "encoding": {
     "x": {"field": "t", "type": "temporal", "scale": {"domain": [{"year": 2021, "month": 9, "date": 19, "minutes": 3}, {"year": 2021, "month": 10, "date": 16, "hours": 18, "minutes": 56}], "nice": false}, "axis": null},
     "y": {"field": "p", "type": "quantitative", "scale": {"domain": [0, 160000], "range": [800, 400], "nice": false}, "axis": null}}},

  {"data": {"values": [{"d": "2021-10-08T16:40"}]},
   "mark": {"type": "rule", "color": "#ffff00", "strokeWidth": 1.5},
   "encoding": {"x": {"field": "d", "type": "temporal", "scale": {"domain": [{"year": 2021, "month": 9, "date": 19, "minutes": 3}, {"year": 2021, "month": 10, "date": 16, "hours": 18, "minutes": 56}], "nice": false}, "axis": null}}},

  {"data": {"name": "dlegend"},
   "mark": {"type": "text", "align": "left", "baseline": "alphabetic", "fontSize": 24},
   "encoding": {
     "x": {"datum": {"year": 2021, "month": 9, "date": 26, "hours": 7, "minutes": 43}, "type": "temporal", "scale": {"domain": [{"year": 2021, "month": 9, "date": 19, "minutes": 3}, {"year": 2021, "month": 10, "date": 16, "hours": 18, "minutes": 56}], "nice": false}, "axis": null},
     "y": {"field": "name", "type": "nominal", "sort": null, "scale": {"type": "point", "domain": ["Anzahl gesamt", "Anz. 2-100", "Anz. 100-1k", "Anz. 1k-100k", "Flaeche/Anzahl", "Flaeche"], "range": [50, 150], "padding": 0}, "axis": null},
     "color": {"field": "name", "type": "nominal", "scale": {"domain": ["Anzahl gesamt", "Anz. 2-100", "Anz. 100-1k", "Anz. 1k-100k", "Flaeche/Anzahl", "Flaeche"], "range": ["#10f010", "#f0b000", "#f000f0", "#1010ff", "#10b8f0", "#f01880"]}, "legend": null},
     "text": {"field": "name"}}},
  {"data": {"values": [{"label": "div\u00a0\u00a02", "d": "2021-10-08T17:23", "v": 30600}]},
   "mark": {"type": "text", "align": "left", "baseline": "alphabetic", "fontSize": 20, "color": "#f01880"},
   "encoding": {
     "x": {"field": "d", "type": "temporal", "scale": {"domain": [{"year": 2021, "month": 9, "date": 19, "minutes": 3}, {"year": 2021, "month": 10, "date": 16, "hours": 18, "minutes": 56}], "nice": false}, "axis": null},
     "y": {"field": "v", "type": "quantitative", "scale": {"domain": [0, 80000], "range": [800, 400], "nice": false}, "axis": null},
     "text": {"field": "label"}}},
  {"data": {"values": [{"label": "WiSi 2021", "d": "2021-10-16T15:04", "v": -16200}]},
   "mark": {"type": "text", "align": "right", "baseline": "alphabetic", "fontSize": 19, "color": "#90f090"},
   "encoding": {
     "x": {"field": "d", "type": "temporal", "scale": {"domain": [{"year": 2021, "month": 9, "date": 19, "minutes": 3}, {"year": 2021, "month": 10, "date": 16, "hours": 18, "minutes": 56}], "nice": false}, "axis": null},
     "y": {"field": "v", "type": "quantitative", "scale": {"domain": [0, 80000], "range": [800, 400], "nice": false}, "axis": null},
     "text": {"field": "label"}}}
]
}
